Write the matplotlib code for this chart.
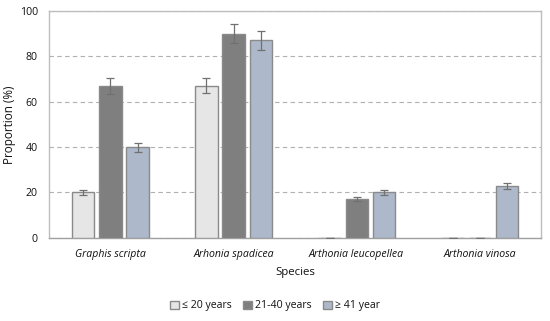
import numpy as np
import matplotlib.pyplot as plt

plt.rcParams['font.family'] = ['Open Sans', 'DejaVu Sans']

species = ["Graphis scripta", "Arhonia spadicea", "Arthonia leucopellea", "Arthonia vinosa"]
age_groups = ["≤ 20 years", "21-40 years", "≥ 41 year"]

young = [20, 67, 0, 0]
middle = [67, 90, 17, 0]
old = [40, 87, 20, 23]

young_err = [1.2, 3.3, 0, 0]
middle_err = [3.4, 4.3, 0.8, 0]
old_err = [2.0, 4.3, 1.1, 1.3]

colors = ["#e6e6e6", "#7f7f7f", "#adb9ca"]

fig = plt.figure(figsize=(5.5, 3.21), dpi=100)
ax = fig.add_axes([0.089, 0.259, 0.895, 0.707])

x = np.arange(len(species))
w = 0.18
step = 0.22
series = [young, middle, old]
errs = [young_err, middle_err, old_err]
for i in range(3):
    ax.bar(x + (i - 1) * step, series[i], width=w, color=colors[i],
           edgecolor="#8a8a8a", linewidth=1.0, label=age_groups[i], zorder=3,
           yerr=errs[i], error_kw=dict(ecolor="#707070", elinewidth=0.9, capsize=3, capthick=0.9))

ax.set_xlim(-0.5, len(species) - 0.5)
ax.set_ylim(0, 100)
ax.set_yticks([0, 20, 40, 60, 80, 100])
ax.yaxis.grid(True, linestyle=(0, (4, 3)), color="#b0b0b0", linewidth=0.8, zorder=0)
ax.set_xticks(x)
ax.set_xticklabels(species, style="italic", fontsize=7.6)
ax.tick_params(axis="both", length=0, labelsize=7.6, colors="#111111")
ax.tick_params(axis="x", pad=8)
ax.tick_params(axis="y", pad=8)
for s in ax.spines.values():
    s.set_color("#bdbdbd")
    s.set_linewidth(1.0)
ax.spines["bottom"].set_color("#a0a0a0")

ax.set_xlabel("Species", fontsize=8.2, labelpad=5, color="#111111")
ax.set_ylabel("Proportion (%)", fontsize=8.4, labelpad=3, color="#111111")

fig.legend(loc="center", bbox_to_anchor=(0.5, 0.047), ncol=3, frameon=False,
           fontsize=7.6, handlelength=0.8, handleheight=0.8, handletextpad=0.3,
           columnspacing=1.1, labelcolor="#111111")

fig.savefig("out.png", dpi=100)
